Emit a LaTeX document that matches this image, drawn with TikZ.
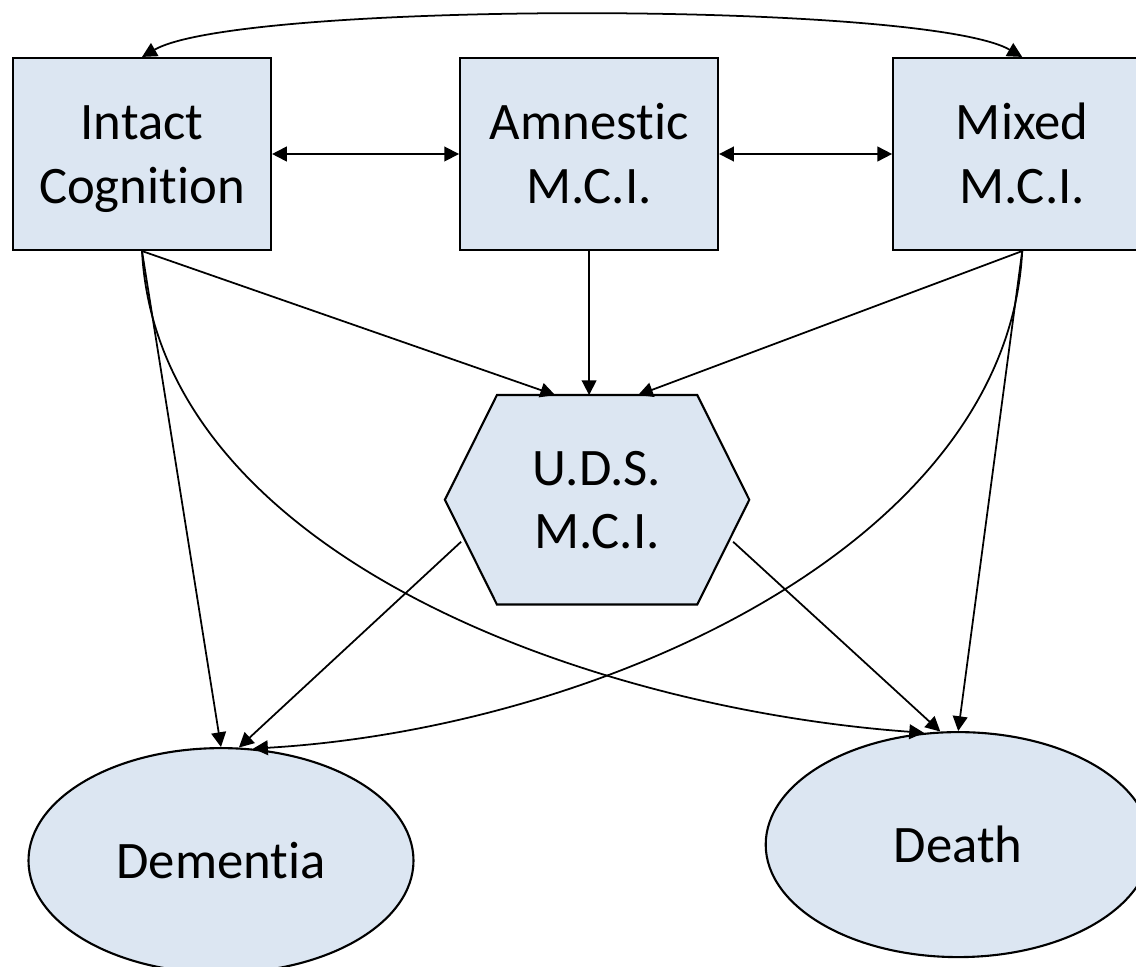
\documentclass[tikz,border=0pt]{standalone}
\usepackage{fontspec}
\setmainfont{Carlito}[Ligatures=NoCommon]
\usetikzlibrary{arrows.meta,positioning,shapes.geometric,backgrounds}
\definecolor{stateFill}{RGB}{220,230,242}
\tikzset{%
    >={Triangle[width=4.2pt,length=4.2pt]},
    outline/.style = {draw=black, fill=stateFill, line width=0.6pt},
    base/.style = {
        outline, text centered, align=center,
        font=\fontsize{15}{18}\selectfont
    },
    state/.style = {base, rectangle, minimum width=2.58cm, minimum height=1.92cm,
        text height=31.9pt, text depth=4pt},
    hexstate/.style = {rectangle, align=center, minimum width=3.03cm,
        minimum height=2.08cm, font=\fontsize{15}{18}\selectfont},
    outcome/.style = {base, ellipse, minimum width=3.85cm, minimum height=2.25cm},
    link/.style = {->, line width=0.5pt},
}
\begin{document}
\begin{tikzpicture}[node distance=1.5cm]
        \clip (0,0) rectangle (11.36,-9.67);
        % Nodes position
        \node (intact)   [state] at (1.42,-1.54)
                                {Intact\\Cognition};
        \node (amnestic) [state, right=1.87cm of intact]
                                {Amnestic\\M.C.I.};
        \node (mixed)    [state, right=1.73cm of amnestic]
                                {Mixed\\M.C.I.};

        \node (uds)      [hexstate, below=1.44cm of amnestic, xshift=0.08cm]
                                {U.D.S.\\M.C.I.};

        \node (dementia) [outcome, below=4.96cm of intact, xshift=0.79cm]
                                {Dementia};
        \node (death)    [outcome, below=4.80cm of mixed, xshift=-0.64cm]
                                {Death};

        % Hexagon behind the U.D.S. text
        \begin{scope}[on background layer]
            \draw[outline] (uds.west) -- ([xshift=0.52cm]uds.north west)
                -- ([xshift=-0.52cm]uds.north east) -- (uds.east)
                -- ([xshift=-0.52cm]uds.south east)
                -- ([xshift=0.52cm]uds.south west) -- cycle;
        \end{scope}

        % Arrow specification
        \draw[link, <->] (intact.north) .. controls +(0.97,0.56) and +(-0.97,0.56) .. (mixed.north);
        \draw[link, <->] (intact) -- (amnestic);
        \draw[link, <->] (amnestic) -- (mixed);
        \draw[link] (intact.south) -- ([xshift=-0.42cm]uds.north);
        \draw[link] (amnestic.south) -- ([xshift=-0.08cm]uds.north);
        \draw[link] (mixed.south) -- ([xshift=0.41cm]uds.north);
        \draw[link] (intact.south) -- (dementia.north);
        \draw[link] (intact.south) .. controls +(0.16,-3.0) and +(-3.43,0.25) .. (death.107);
        \draw[link] (mixed.south) .. controls +(-0.15,-2.95) and +(3.43,0.2) .. (dementia.74);
        \draw[link] (mixed.south) -- (death.north);
        \draw[link] ([shift={(-1.36,-0.42)}]uds.center) -- (dementia.81);
        \draw[link] ([shift={(1.36,-0.42)}]uds.center) -- (death.99);
    \end{tikzpicture}
\end{document}
